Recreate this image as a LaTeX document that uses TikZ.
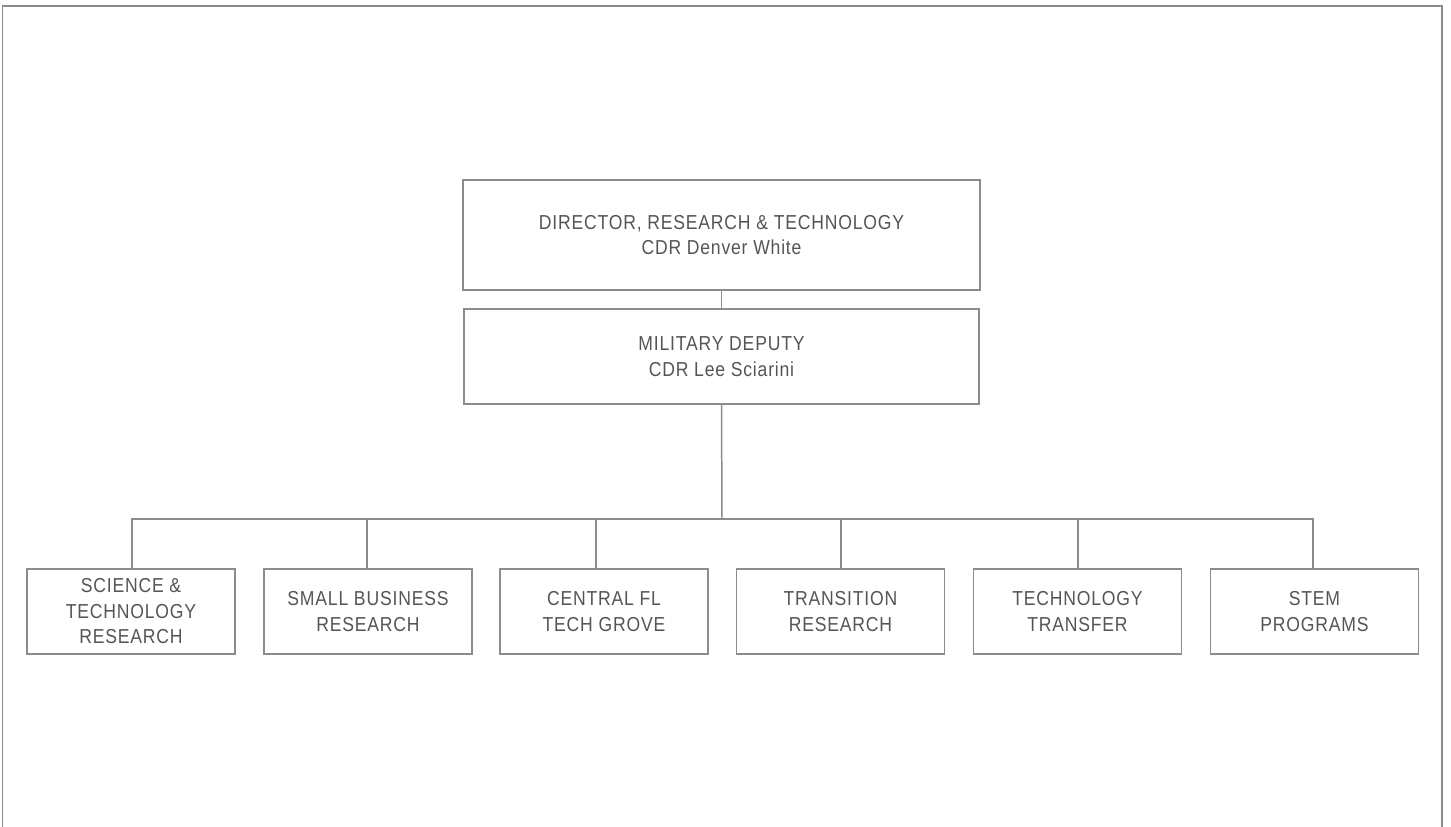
\documentclass[tikz,border=0pt]{standalone}
\usepackage{fontspec}
\setmainfont{Liberation Sans}[FakeStretch=0.87, LetterSpace=4]
\definecolor{linegray}{HTML}{8C8C8C}
\definecolor{textgray}{HTML}{555555}
\begin{document}
\begin{tikzpicture}[x=0.02cm, y=-0.02cm,
    box/.style={rectangle, draw=linegray, line width=0.85pt, text=textgray,
      align=center, font=\fontsize{11.5}{14.5}\selectfont, inner sep=0pt},
    unitbox/.style={box, minimum width=4.16cm, minimum height=1.7cm},
    link/.style={draw=linegray, line width=0.85pt}]
    \useasboundingbox (0,0) rectangle (1451,827);

    % 外枠
    \draw[linegray, line width=1.1pt] (2.5,827) -- (2.5,6) -- (1442,6) -- (1442,827);

    % 箱を置く
    \node[box, minimum width=10.34cm, minimum height=2.2cm] (dir) at (721.5,235)
      {DIRECTOR, RESEARCH \& TECHNOLOGY\\CDR Denver White};
    \node[box, minimum width=10.3cm, minimum height=1.9cm] (dep) at (721.5,356.5)
      {MILITARY DEPUTY\\CDR Lee Sciarini};

    \node[unitbox] (sci)   at (131,611.5)    {SCIENCE \&\\TECHNOLOGY\\RESEARCH};
    \node[unitbox] (sbr)   at (368,611.5)    {SMALL BUSINESS\\RESEARCH};
    \node[unitbox] (grove) at (604,611.5)    {CENTRAL FL\\TECH GROVE};
    \node[unitbox] (trans) at (840.5,611.5)  {TRANSITION\\RESEARCH};
    \node[unitbox] (xfer)  at (1077.5,611.5) {TECHNOLOGY\\TRANSFER};
    \node[unitbox] (stem)  at (1314.5,611.5) {STEM\\PROGRAMS};

    \coordinate (bus) at (722,519);

    % つなぐ
    \draw[link] (dir.south) -- (dep.north);
    \draw[link] (dep.south) -- (bus);
    \foreach \n/\dx in {sci/1, sbr/-1, grove/-8, trans/0.5, xfer/0.5, stem/-1.5}
      \draw[link] (bus) -| ([xshift=\dx*0.02cm]\n.north);

  \end{tikzpicture}
\end{document}
